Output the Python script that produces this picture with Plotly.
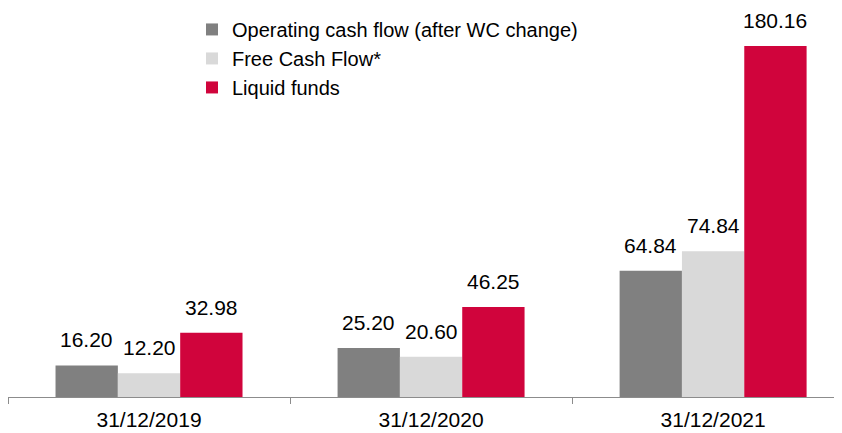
import plotly.graph_objects as go

# Data
dates = ["31/12/2019", "31/12/2020", "31/12/2021"]
operating_cf = [16.20, 25.20, 64.84]
free_cf = [12.20, 20.60, 74.84]
liquid_funds = [32.98, 46.25, 180.16]

series = [
    ("Operating cash flow (after WC change)", operating_cf, "#808080"),
    ("Free Cash Flow*", free_cf, "#D9D9D9"),
    ("Liquid funds", liquid_funds, "#D0043C"),
]

BARGAP = 0.337
bar_w = (1 - BARGAP) / len(series)

fig = go.Figure()
for name, vals, color in series:
    fig.add_trace(go.Bar(
        name=name,
        x=dates,
        y=vals,
        marker_color=color,
        marker_line_width=0,
    ))

# value labels above each bar
annotations = []
for j, (name, vals, color) in enumerate(series):
    offset = (j - 1) * bar_w
    for i, v in enumerate(vals):
        annotations.append(dict(
            x=i + offset, y=v, xref="x", yref="y",
            text=f"{v:.2f}", showarrow=False,
            yanchor="bottom", yshift=12,
            font=dict(size=21, color="#000000"),
        ))

# page body adds an 8px margin, so the figure is sized to fit the window
fig.update_layout(
    width=834,
    height=425,
    barmode="group",
    bargap=BARGAP,
    bargroupgap=0,
    plot_bgcolor="white",
    paper_bgcolor="white",
    font=dict(family="Liberation Sans, Arial, sans-serif", color="#000000"),
    margin=dict(l=0, r=0, t=0, b=36),
    showlegend=True,
    legend=dict(
        x=0.2206, y=0.995, xanchor="left", yanchor="top",
        font=dict(size=20),
        bgcolor="rgba(0,0,0,0)",
        tracegroupgap=0,
    ),
    xaxis=dict(
        type="category",
        range=[-0.5, 2.457],
        tickson="boundaries",
        ticks="outside",
        ticklen=6,
        tickcolor="#8C8C8C",
        showline=True,
        linecolor="#8C8C8C",
        linewidth=1,
        showgrid=False,
        tickfont=dict(size=21),
        ticklabelstandoff=4,
        automargin=False,
    ),
    yaxis=dict(
        range=[0, 199.7],
        visible=False,
        showgrid=False,
        zeroline=False,
    ),
    annotations=annotations,
)

fig.write_html("out.html")
